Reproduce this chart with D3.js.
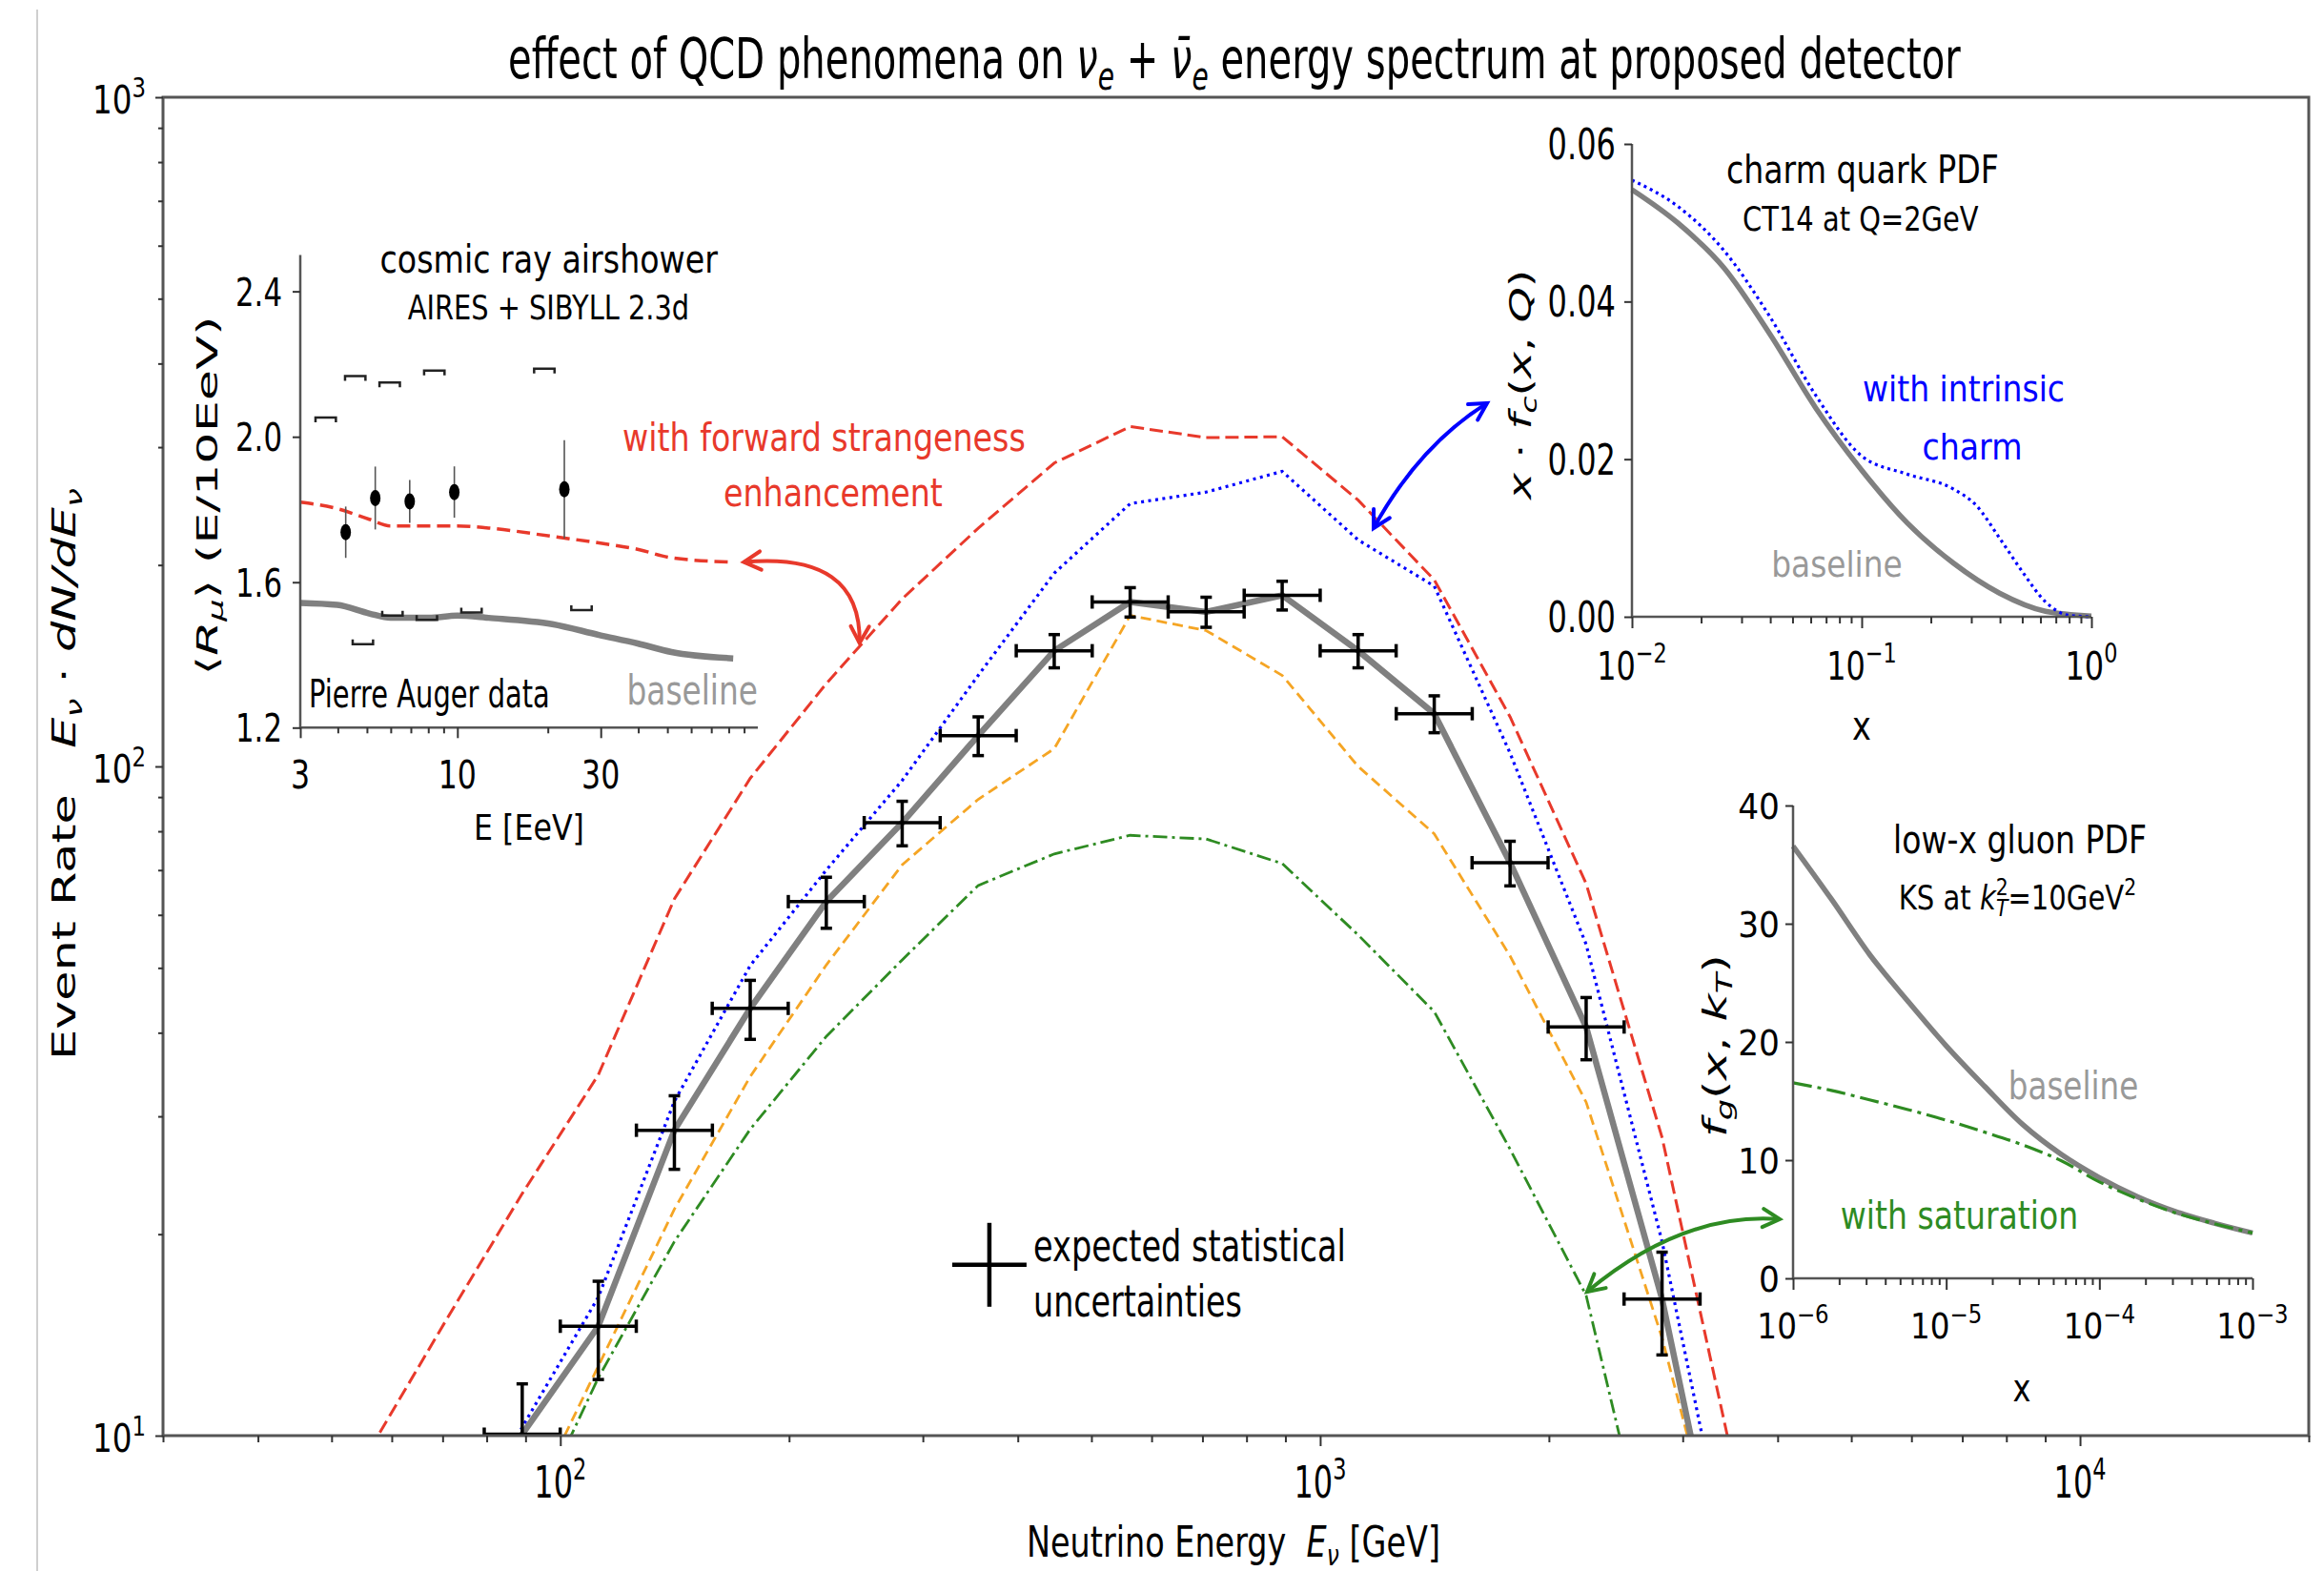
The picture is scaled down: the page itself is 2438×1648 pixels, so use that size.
<!DOCTYPE html>
<html>
<head>
<meta charset="utf-8">
<script src="https://cdn.jsdelivr.net/npm/d3@7"></script>
<style>
  body { margin: 0; background: #fff; }
  svg { display: block; }
  text { font-family: "DejaVu Sans", sans-serif; white-space: pre; }
</style>
</head>
<body>
<svg id="fig" width="2438" height="1648"></svg>
<script>
// ---------------- main spectrum: curves on bin-centre energies (GeV) ----------------
const curveEnergy = [56.2, 70.8, 89.1, 112.2, 141.3, 177.8, 223.9, 281.8, 354.8, 446.7,
                     562.3, 707.9, 891.3, 1122, 1413, 1778, 2239, 2818, 3548];
const baselineRate = [null, 5.0, 10.05, 14.57, 28.6, 43.5, 62.8, 82.4, 111.2, 148.9,
                      176.1, 170.2, 180.2, 148.9, 119.9, 71.8, 40.8, 16.0, 4.6];
const strangenessRate = [9.55, 14.9, 23, 34.6, 63.4, 96, 133, 178, 227, 284,
                         322, 310, 311, 250, 190, 118.6, 66.8, 27.9, 8.45];
const intrinsicCharmRate = [null, 6.0, 10.3, 16.1, 31.6, 50.4, 70, 95.3, 136.8, 194.4,
                            247, 257, 276, 218, 186, 104.7, 54.2, 19.5, 5.5];
const variantRate = [null, null, 7.4, 12.7, 21.8, 34.4, 50.5, 71.3, 89.3, 106.3,
                     168.1, 159.6, 136.8, 100, 79.3, 52.1, 31.5, 14, 5.1];
const saturationRate = [null, null, 7.0, 12.2, 19.5, 28.7, 39.5, 51.4, 66.4, 74,
                        78.9, 77.9, 71.6, 56, 43, 26.8, 16.2, 5.4, null];

// expected measurement with statistical uncertainties
const pointEnergy = [89.1, 112.2, 141.3, 177.8, 223.9, 281.8, 354.8, 446.7,
                     562.3, 707.9, 891.3, 1122, 1413, 1778, 2239, 2818];
const pointRate = [10.05, 14.57, 28.6, 43.5, 62.8, 82.4, 111.2, 148.9,
                   176.1, 170.2, 180.2, 148.9, 119.9, 71.8, 40.8, 16.0];
const pointError = [1.9, 2.44, 3.6, 4.4, 5.5, 6.3, 7.4, 8.5,
                    8.9, 8.8, 8.9, 8.5, 7.6, 5.5, 4.35, 2.8];
const binHalfWidthDecades = 0.05;

const mainXTicks = [100, 1000, 10000];
const mainYTicks = [10, 100, 1000];

// ---------------- inset: cosmic ray air showers ----------------
const showerEnergy = [3, 3.98, 5.09, 5.99, 8.04, 10, 12.7, 20.7, 29.6, 39.8, 51.6, 82.8];
const showerBaseline = [1.543, 1.5375, 1.514, 1.502, 1.502, 1.508, 1.502, 1.4846, 1.455, 1.4316, 1.408, 1.3905];
const showerStrangeness = [1.82, 1.8024, 1.773, 1.755, 1.755, 1.755, 1.749, 1.726, 1.708, 1.6906, 1.667, 1.6554];
const augerEnergy = [4.25, 5.33, 6.94, 9.77, 22.7];
const augerRmu = [1.7375, 1.8316, 1.8224, 1.848, 1.8554];
const augerStat = [0.0706, 0.0865, 0.059, 0.0706, 0.135];
const augerSysHigh = [2.053, 2.167, 2.149, 2.182, 2.187];
const augerSysLow = [1.4294, 1.508, 1.4964, 1.5165, 1.5236];
const showerXTicks = [3, 10, 30];
const showerXTickLabels = ["3", "10", "30"];
const showerYTicks = [1.2, 1.6, 2.0, 2.4];
const showerYTickLabels = ["1.2", "1.6", "2.0", "2.4"];

// ---------------- inset: charm quark PDF ----------------
const charmX = [0.01, 0.0158, 0.0251, 0.0398, 0.0631, 0.1, 0.158, 0.251, 0.398, 0.631, 1];
const charmBaseline = [0.0542, 0.05, 0.0443, 0.0359, 0.0265, 0.0186, 0.0119, 0.0068, 0.003, 0.0007, 0.0001];
const charmIntrinsicX = [0.01, 0.0158, 0.0251, 0.0398, 0.0631, 0.1, 0.158, 0.251, 0.316, 0.398, 0.501, 0.631, 0.794, 1];
const charmIntrinsic = [0.0554, 0.0521, 0.0465, 0.0381, 0.0281, 0.0204, 0.0181, 0.0162, 0.0141, 0.01, 0.0057, 0.0019, 0.0002, 0];
const charmXTicks = [0.01, 0.1, 1];
const charmYTicks = [0, 0.02, 0.04, 0.06];
const charmYTickLabels = ["0.00", "0.02", "0.04", "0.06"];

// ---------------- inset: low-x gluon PDF ----------------
const gluonX = [1e-6, 1.78e-6, 3.16e-6, 5.62e-6, 1e-5, 1.78e-5, 3.16e-5, 5.62e-5, 1e-4, 1.78e-4, 3.16e-4, 5.62e-4, 1e-3];
const gluonBaseline = [36.57, 32.08, 27.4, 23.45, 19.67, 16.25, 13.01, 10.5, 8.52, 6.9, 5.64, 4.67, 3.84];
const gluonSaturation = [16.54, 15.9, 15.1, 14.28, 13.38, 12.37, 11.29, 9.96, 8.16, 6.72, 5.53, 4.63, 3.84];
const gluonXTicks = [1e-6, 1e-5, 1e-4, 1e-3];
const gluonYTicks = [0, 10, 20, 30, 40];
const gluonYTickLabels = ["0", "10", "20", "30", "40"];

// ---------------- colours ----------------
const RED = "#e8392b", BLUE = "#0000ff", GREY = "#808080", ORANGE = "#f5a524",
      GREEN = "#2e8b22", LABEL_GREY = "#999999", SPINE = "#555555";

const svg = d3.select("#fig");

// text with italic / sub / superscript pieces, squeezed along its direction to a given length
function label(parent, segs, o) {
  if (typeof segs === "string") segs = [{ t: segs }];
  const el = parent.append("text").attr("font-size", o.size).attr("fill", o.fill || "#000");
  let shift = 0;
  segs.forEach(s => {
    const small = s.sub || s.sup;
    const fs = small ? o.size * 0.7 : o.size;
    const target = s.sub ? o.size * 0.2 : s.sup ? -o.size * 0.42 : 0;
    const ts = el.append("tspan").attr("font-size", fs).text(s.t);
    if (s.it) ts.attr("font-style", "italic");
    if (s.dx) ts.attr("dx", s.dx * o.size);
    if (target !== shift) { ts.attr("dy", target - shift); shift = target; }
  });
  const bb = el.node().getBBox();
  const k = o.width ? o.width / bb.width : (o.k || 1);
  const a = o.anchor || "start";
  const off = a === "middle" ? -(bb.x + bb.width / 2) : a === "end" ? -(bb.x + bb.width) : -bb.x;
  el.attr("transform", `translate(${o.x},${o.y}) rotate(${o.rotate || 0}) scale(${k},1) translate(${off},0)`);
  return el;
}
const pow10 = v => [{ t: "10" }, { t: String(Math.round(Math.log10(v))).replace("-", "\u2212"), sup: true }];

function tickMarks(parent, axisFn, scale, values, size, transform) {
  const a = parent.append("g").attr("transform", transform)
    .call(axisFn(scale).tickValues(values).tickSize(size).tickFormat(""));
  a.select(".domain").remove();
  a.selectAll("line").attr("stroke", "#333").attr("stroke-width", 2);
}
function minorLog(lo, hi) {
  const out = [];
  for (let d = lo; d < hi; d *= 10) for (let m = 2; m <= 9; m++) out.push(d * m);
  return out;
}
function drawCurve(g, xs, ys, sx, sy, style, curveType) {
  const pts = xs.map((v, i) => [v, ys[i]]).filter(p => p[1] != null);
  const p = g.append("path").datum(pts)
    .attr("d", d3.line().x(d => sx(d[0])).y(d => sy(d[1])).curve(curveType || d3.curveLinear))
    .attr("fill", "none").attr("stroke", style.color).attr("stroke-width", style.width);
  if (style.dash) p.attr("stroke-dasharray", style.dash);
  return p;
}
function doubleArrow(g, p0, c, p2, color) {
  g.append("path").attr("d", `M${p0[0]},${p0[1]} Q${c[0]},${c[1]} ${p2[0]},${p2[1]}`)
    .attr("fill", "none").attr("stroke", color).attr("stroke-width", 4);
  [[p0, c], [p2, c]].forEach(([tip, from]) => {
    const dx = tip[0] - from[0], dy = tip[1] - from[1], L = Math.hypot(dx, dy);
    const ux = dx / L, uy = dy / L, len = 20, ang = 0.5;
    const pt = s => [tip[0] - len * (ux * Math.cos(ang) - s * uy * Math.sin(ang)),
                     tip[1] - len * (uy * Math.cos(ang) + s * ux * Math.sin(ang))];
    const a = pt(1), b = pt(-1);
    g.append("path").attr("d", `M${a[0]},${a[1]} L${tip[0]},${tip[1]} L${b[0]},${b[1]}`)
      .attr("fill", "none").attr("stroke", color).attr("stroke-width", 4)
      .attr("stroke-linejoin", "miter").attr("stroke-linecap", "round");
  });
}

// faint rule at the left edge of the figure
svg.append("line").attr("x1", 39).attr("x2", 39).attr("y1", 10).attr("y2", 1648)
  .attr("stroke", "#cfcfcf").attr("stroke-width", 2);

// ================= main axes =================
const x = d3.scaleLog().domain([30, 20000]).range([171, 2422]);
const y = d3.scaleLog().domain([10, 1000]).range([1506, 102]);
const main = svg.append("g");

main.append("clipPath").attr("id", "mainClip").append("rect")
  .attr("x", 171).attr("y", 102).attr("width", 2422 - 171).attr("height", 1506 - 102);
const plot = main.append("g").attr("clip-path", "url(#mainClip)");

drawCurve(plot, curveEnergy, strangenessRate, x, y, { color: RED, width: 3, dash: "14,6" });
drawCurve(plot, curveEnergy, saturationRate, x, y, { color: GREEN, width: 2.8, dash: "15,5,3,5" });
drawCurve(plot, curveEnergy, variantRate, x, y, { color: ORANGE, width: 2.8, dash: "11,6" });
drawCurve(plot, curveEnergy, intrinsicCharmRate, x, y, { color: BLUE, width: 3.2, dash: "3,4.5" });
drawCurve(plot, curveEnergy, baselineRate, x, y, { color: GREY, width: 6.5 });

// error crosses
const bins = plot.append("g").attr("stroke", "#000").attr("stroke-width", 3.5);
pointEnergy.forEach((e, i) => {
  const cx = x(e), cy = y(pointRate[i]);
  const yLo = y(pointRate[i] - pointError[i]), yHi = y(pointRate[i] + pointError[i]);
  const xLo = x(e / Math.pow(10, binHalfWidthDecades)), xHi = x(e * Math.pow(10, binHalfWidthDecades));
  bins.append("line").attr("x1", cx).attr("x2", cx).attr("y1", yLo).attr("y2", yHi);
  bins.append("line").attr("x1", xLo).attr("x2", xHi).attr("y1", cy).attr("y2", cy);
  [yLo, yHi].forEach(v => bins.append("line").attr("x1", cx - 6).attr("x2", cx + 6).attr("y1", v).attr("y2", v));
  [xLo, xHi].forEach(v => bins.append("line").attr("x1", v).attr("x2", v).attr("y1", cy - 7).attr("y2", cy + 7));
});

// spines
main.append("rect").attr("x", 171).attr("y", 102).attr("width", 2422 - 171).attr("height", 1506 - 102)
  .attr("fill", "none").attr("stroke", SPINE).attr("stroke-width", 3);

// ticks
tickMarks(main, d3.axisBottom, x, mainXTicks, 11, "translate(0,1506)");
tickMarks(main, d3.axisBottom, x, minorLog(10, 20000).filter(v => v >= 30 && v <= 20000 && !mainXTicks.includes(v)), 7, "translate(0,1506)");
tickMarks(main, d3.axisLeft, y, mainYTicks, 8, "translate(171,0)");
tickMarks(main, d3.axisLeft, y, minorLog(10, 1000), 5, "translate(171,0)");

mainXTicks.forEach(v => label(main, pow10(v), { x: x(v), y: 1571, size: 46, anchor: "middle", width: 55 }));
mainYTicks.forEach(v => label(main, pow10(v), { x: 153, y: y(v) + 17, size: 40, anchor: "end", width: 56 }));

label(main, [{ t: "Neutrino Energy  " }, { t: "E", it: true }, { t: "ν", it: true, sub: true }, { t: " [GeV]" }],
  { x: 1294, y: 1633, size: 44, anchor: "middle", width: 434 });
label(main, [{ t: "Event Rate   " }, { t: "E", it: true }, { t: "ν", it: true, sub: true }, { t: " · " },
             { t: "dN/dE", it: true }, { t: "ν", it: true, sub: true }],
  { x: 79, y: 812, size: 34, anchor: "middle", width: 600, rotate: -90 });
label(svg, [{ t: "effect of QCD phenomena on " }, { t: "ν", it: true }, { t: "e", it: true, sub: true },
            { t: " + " }, { t: "ν\u0304", it: true }, { t: "e", it: true, sub: true },
            { t: " energy spectrum at proposed detector" }],
  { x: 1295, y: 82, size: 58, anchor: "middle", width: 1524 });

// legend cross for the statistical uncertainties
const legC = [x(367), y(18.0)];
main.append("line").attr("x1", legC[0] - 39).attr("x2", legC[0] + 39).attr("y1", legC[1]).attr("y2", legC[1])
  .attr("stroke", "#000").attr("stroke-width", 4.5);
main.append("line").attr("x1", legC[0]).attr("x2", legC[0]).attr("y1", legC[1] - 44).attr("y2", legC[1] + 44)
  .attr("stroke", "#000").attr("stroke-width", 4.5);
label(main, "expected statistical", { x: 1084, y: 1323, size: 46, width: 328 });
label(main, "uncertainties", { x: 1084, y: 1381, size: 46, width: 219 });

label(main, "with forward strangeness", { x: 864.5, y: 473, size: 41, anchor: "middle", width: 423, fill: RED });
label(main, "enhancement", { x: 874, y: 531, size: 41, anchor: "middle", width: 230, fill: RED });

// ================= inset: cosmic ray air showers =================
const sx1 = d3.scaleLog().domain([3, 100]).range([315, 795]);
const sy1 = d3.scaleLinear().domain([1.2, 2.5]).range([763.3, 267.5]);
const in1 = svg.append("g");
drawCurve(in1, showerEnergy, showerBaseline, sx1, sy1, { color: GREY, width: 6.5 }, d3.curveMonotoneX);
drawCurve(in1, showerEnergy, showerStrangeness, sx1, sy1, { color: RED, width: 3.5, dash: "14,7" }, d3.curveMonotoneX);
augerEnergy.forEach((e, i) => {
  const cx = sx1(e);
  in1.append("line").attr("x1", cx).attr("x2", cx)
    .attr("y1", sy1(augerRmu[i] - augerStat[i])).attr("y2", sy1(augerRmu[i] + augerStat[i]))
    .attr("stroke", "#555").attr("stroke-width", 1.6);
  in1.append("ellipse").attr("cx", cx).attr("cy", sy1(augerRmu[i])).attr("rx", 5.5).attr("ry", 8.5).attr("fill", "#000");
  // systematic brackets, drawn beside the point
  const hx = cx - 21, lx = cx + 18, hw = 10.7, hook = 5;
  const yh = sy1(augerSysHigh[i]), yl = sy1(augerSysLow[i]);
  in1.append("path").attr("d", `M${hx - hw},${yh + hook} L${hx - hw},${yh} L${hx + hw},${yh} L${hx + hw},${yh + hook}`)
    .attr("fill", "none").attr("stroke", "#222").attr("stroke-width", 2.5);
  in1.append("path").attr("d", `M${lx - hw},${yl - hook} L${lx - hw},${yl} L${lx + hw},${yl} L${lx + hw},${yl - hook}`)
    .attr("fill", "none").attr("stroke", "#222").attr("stroke-width", 2.5);
});
in1.append("path").attr("d", `M315,267.5 L315,763.3 L795,763.3`).attr("fill", "none").attr("stroke", SPINE).attr("stroke-width", 2.5);
tickMarks(in1, d3.axisBottom, sx1, showerXTicks, 11, "translate(0,763.3)");
tickMarks(in1, d3.axisBottom, sx1, [4, 5, 6, 7, 8, 9, 20, 40, 50, 60, 70, 80, 90], 6, "translate(0,763.3)");
tickMarks(in1, d3.axisLeft, sy1, showerYTicks, 8, "translate(315,0)");
showerXTicks.forEach((v, i) => label(in1, showerXTickLabels[i], { x: sx1(v), y: 827, size: 40, anchor: "middle", k: 0.79 }));
showerYTicks.forEach((v, i) => label(in1, showerYTickLabels[i], { x: 296, y: sy1(v) + 15, size: 40, anchor: "end", width: 49 }));
label(in1, "E [EeV]", { x: 555, y: 881, size: 37, anchor: "middle", width: 116 });
label(in1, [{ t: "⟨" }, { t: "R", it: true }, { t: "μ", it: true, sub: true }, { t: "⟩ (E/10EeV)" }],
  { x: 228, y: 520, size: 31, anchor: "middle", width: 377, rotate: -90 });
label(in1, "cosmic ray airshower", { x: 576, y: 286, size: 40, anchor: "middle", width: 355 });
label(in1, "AIRES + SIBYLL 2.3d", { x: 575.5, y: 335, size: 36, anchor: "middle", width: 295.5 });
label(in1, "Pierre Auger data", { x: 324, y: 742, size: 41, width: 253 });
label(in1, "baseline", { x: 795, y: 739, size: 42, anchor: "end", width: 137.5, fill: LABEL_GREY });

// ================= inset: charm quark PDF =================
const sx2 = d3.scaleLog().domain([0.01, 1]).range([1712, 2194]);
const sy2 = d3.scaleLinear().domain([0, 0.06]).range([647, 151]);
const in2 = svg.append("g");
drawCurve(in2, charmX, charmBaseline, sx2, sy2, { color: GREY, width: 5.5 }, d3.curveMonotoneX);
drawCurve(in2, charmIntrinsicX, charmIntrinsic, sx2, sy2, { color: BLUE, width: 3.2, dash: "3,4" }, d3.curveMonotoneX);
in2.append("path").attr("d", `M1712,151 L1712,647 L2194,647`).attr("fill", "none").attr("stroke", SPINE).attr("stroke-width", 2.5);
tickMarks(in2, d3.axisBottom, sx2, charmXTicks, 12, "translate(0,647)");
tickMarks(in2, d3.axisBottom, sx2, minorLog(0.01, 1), 7, "translate(0,647)");
tickMarks(in2, d3.axisLeft, sy2, charmYTicks, 8, "translate(1712,0)");
charmXTicks.forEach(v => label(in2, pow10(v), { x: sx2(v), y: 712.5, size: 41, anchor: "middle", k: 0.78 }));
charmYTicks.forEach((v, i) => label(in2, charmYTickLabels[i], { x: 1695, y: sy2(v) + 16, size: 44, anchor: "end", width: 71.4 }));
label(in2, "x", { x: 1953, y: 776, size: 42, anchor: "middle", k: 0.8 });
label(in2, [{ t: "x", it: true }, { t: " · " }, { t: "f", it: true }, { t: "c", it: true, sub: true },
            { t: "(" }, { t: "x", it: true }, { t: ", " }, { t: "Q", it: true }, { t: ")" }],
  { x: 1606, y: 404, size: 32, anchor: "middle", width: 243, rotate: -90 });
label(in2, "charm quark PDF", { x: 1954, y: 191.5, size: 40, anchor: "middle", width: 286 });
label(in2, "CT14 at Q=2GeV", { x: 1952, y: 242, size: 36, anchor: "middle", width: 248 });
label(in2, "with intrinsic", { x: 2060, y: 421, size: 38, anchor: "middle", width: 212, fill: BLUE });
label(in2, "charm", { x: 2069, y: 482, size: 38, anchor: "middle", width: 105, fill: BLUE });
label(in2, "baseline", { x: 1927, y: 604.5, size: 38, anchor: "middle", width: 137.5, fill: LABEL_GREY });

// ================= inset: low-x gluon PDF =================
const sx3 = d3.scaleLog().domain([1e-6, 1e-3]).range([1881, 2363]);
const sy3 = d3.scaleLinear().domain([0, 40]).range([1341, 845]);
const in3 = svg.append("g");
drawCurve(in3, gluonX, gluonBaseline, sx3, sy3, { color: GREY, width: 5.5 }, d3.curveMonotoneX);
drawCurve(in3, gluonX, gluonSaturation, sx3, sy3, { color: GREEN, width: 3.2, dash: "20,6,4,6" }, d3.curveMonotoneX);
in3.append("path").attr("d", `M1881,845 L1881,1341 L2363,1341`).attr("fill", "none").attr("stroke", SPINE).attr("stroke-width", 2.5);
tickMarks(in3, d3.axisBottom, sx3, gluonXTicks, 12, "translate(0,1341)");
tickMarks(in3, d3.axisBottom, sx3, minorLog(1e-6, 1e-3), 7, "translate(0,1341)");
tickMarks(in3, d3.axisLeft, sy3, gluonYTicks, 8, "translate(1881,0)");
gluonXTicks.forEach(v => label(in3, pow10(v), { x: sx3(v), y: 1403.6, size: 38, anchor: "middle", k: 0.86 }));
gluonYTicks.forEach((v, i) => label(in3, gluonYTickLabels[i], { x: 1867, y: sy3(v) + 14, size: 37, anchor: "end", k: 0.93 }));
label(in3, "x", { x: 2121, y: 1469.6, size: 40, anchor: "middle", k: 0.8 });
label(in3, [{ t: "f", it: true }, { t: "g", it: true, sub: true }, { t: "(" }, { t: "x", it: true },
            { t: ", " }, { t: "k", it: true }, { t: "T", it: true, sub: true }, { t: ")" }],
  { x: 1810.6, y: 1097, size: 34, anchor: "middle", width: 192, rotate: -90 });
label(in3, "low-x gluon PDF", { x: 2119, y: 894.6, size: 40, anchor: "middle", width: 266 });
label(in3, [{ t: "KS at " }, { t: "k", it: true }, { t: "2", sup: true }, { t: "T", it: true, sub: true, dx: -0.44 },
            { t: "=10GeV" }, { t: "2", sup: true }],
  { x: 2116.5, y: 954, size: 36, anchor: "middle", width: 249.5 });
label(in3, "baseline", { x: 2175, y: 1152.7, size: 40, anchor: "middle", width: 136.5, fill: LABEL_GREY });
label(in3, "with saturation", { x: 2055.5, y: 1288.8, size: 40, anchor: "middle", width: 249.5, fill: GREEN });

// ================= connecting arrows =================
const arrows = svg.append("g");
doubleArrow(arrows, [780.4, 589.6], [904, 578.5], [901.7, 674.6], RED);
doubleArrow(arrows, [1441, 554], [1489, 467], [1560, 423], BLUE);
doubleArrow(arrows, [1665, 1355], [1766, 1271], [1867, 1279], GREEN);
</script>
</body>
</html>
